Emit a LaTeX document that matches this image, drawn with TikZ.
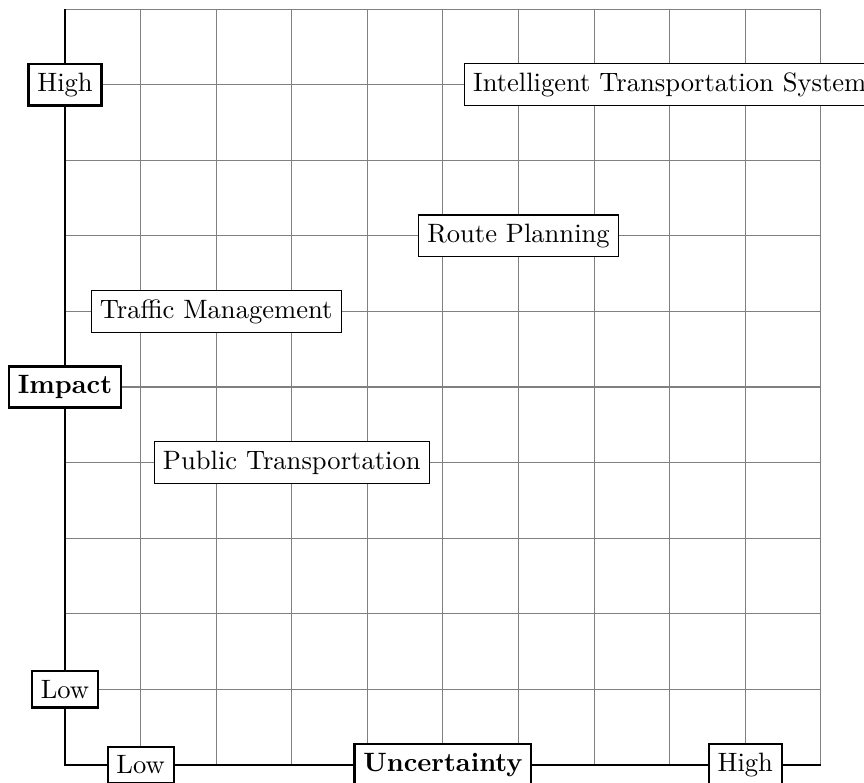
\documentclass[tikz,border=0pt]{standalone}
\begin{document}
\begin{tikzpicture}[
  axislabel/.style={draw, thick, fill=white},
  concept/.style={draw, fill=white},
  gridline/.style={gray, thin}
]
\useasboundingbox (-0.86,-0.238) rectangle (10.57,10.12);
\draw[gridline] (0,0) grid (10,10);
\coordinate (top) at (0,10);
\coordinate (orig) at (0,0);
\coordinate (right) at (10,0);
\draw[thick] (top) -- (orig) -- (right);
\node[axislabel] (yhigh) at (0,9) {High};
\node[axislabel] (ylow) at (0,1) {Low};
\node[axislabel] (ytitle) at (0,5) {\textbf{Impact}};
\node[axislabel] (xlow) at (1,0) {Low};
\node[axislabel] (xtitle) at (5,0) {\textbf{Uncertainty}};
\node[axislabel] (xhigh) at (9,0) {High};
\node[concept] (its) at (8,9) {Intelligent Transportation System};
\node[concept] (rp) at (6,7) {Route Planning};
\node[concept] (tm) at (2,6) {Traffic Management};
\node[concept] (pt) at (3,4) {Public Transportation};
\end{tikzpicture}
\end{document}
